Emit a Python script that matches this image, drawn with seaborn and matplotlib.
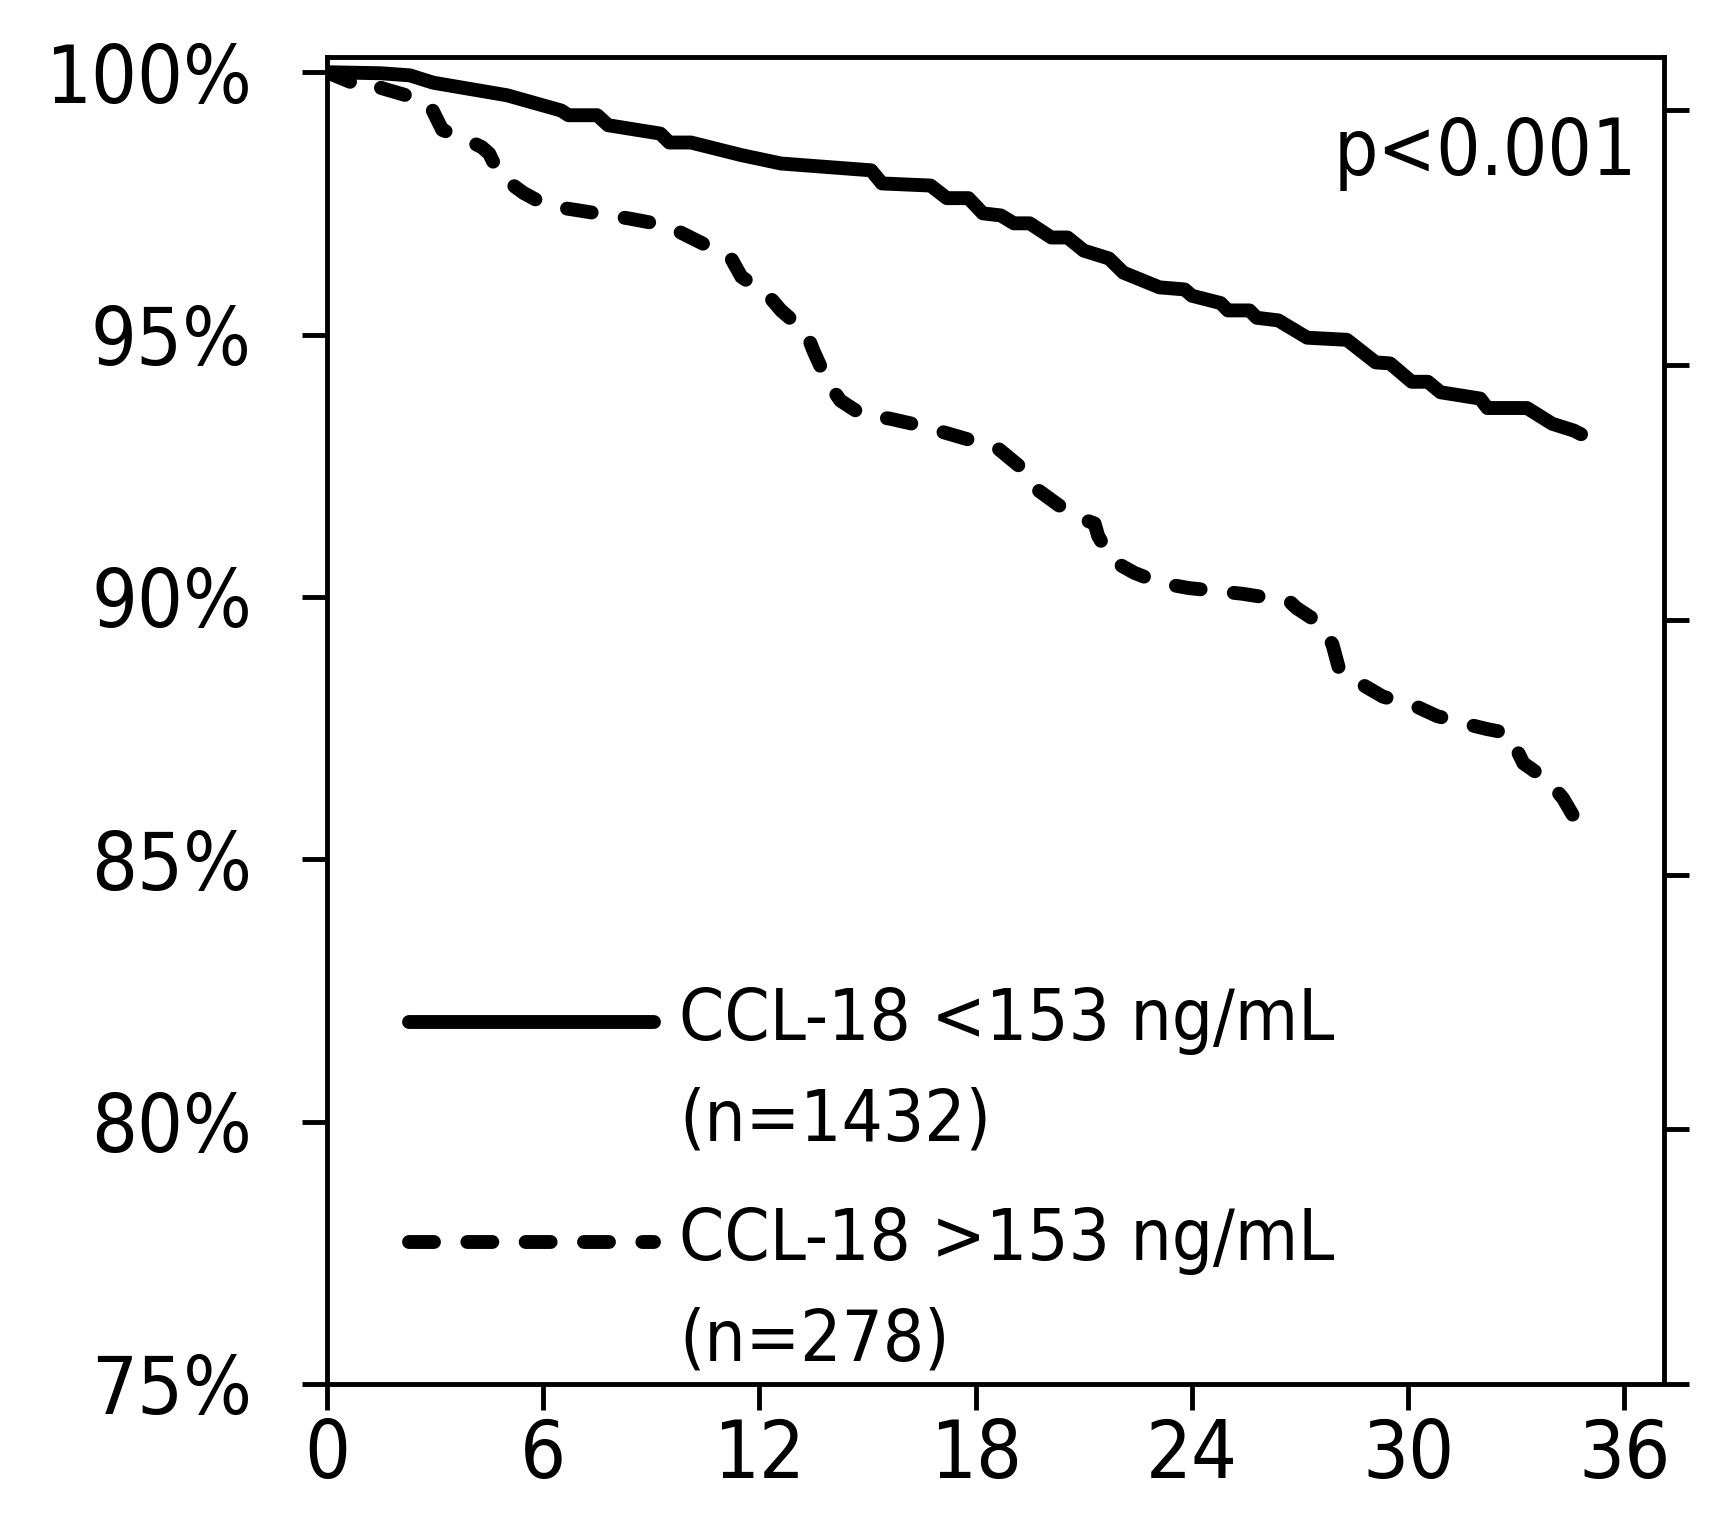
import numpy as np
import pandas as pd
import matplotlib
matplotlib.use("Agg")
import matplotlib.pyplot as plt
import seaborn as sns

# ---- data ----
months_low = [0.0, 1.5, 2.3, 2.95, 5.0, 6.5, 6.7, 7.5, 7.8, 9.25, 9.5, 10.1, 11.5,
              12.6, 15.1, 15.4, 16.75, 17.2, 17.8, 18.2, 18.7, 19.06, 19.5, 20.1,
              20.55, 21.0, 21.7, 22.1, 23.1, 23.8, 24.0, 24.8, 25.0, 25.6, 25.8,
              26.4, 27.2, 28.3, 29.1, 29.5, 30.1, 30.55, 30.9, 32.0, 32.2, 33.3,
              34.0, 34.6, 34.8]
surv_low = [100.0, 99.98, 99.94, 99.8, 99.56, 99.27, 99.18, 99.18, 98.99, 98.83,
            98.66, 98.66, 98.42, 98.26, 98.13, 97.88, 97.84, 97.6, 97.6, 97.31,
            97.27, 97.12, 97.12, 96.85, 96.85, 96.6, 96.45, 96.18, 95.9, 95.86,
            95.74, 95.6, 95.46, 95.46, 95.32, 95.27, 94.94, 94.9, 94.47, 94.45,
            94.1, 94.1, 93.9, 93.78, 93.6, 93.6, 93.3, 93.17, 93.1]

months_high = [0.0, 0.7, 1.4, 1.5, 2.2, 2.86, 3.2, 3.8, 4.3, 4.5, 4.8, 5.45, 6.1,
               6.95, 8.4, 9.4, 9.8, 11.2, 11.5, 12.2, 12.6, 13.3, 13.5, 13.9,
               14.25, 14.9, 15.6, 16.5, 17.9, 18.6, 19.2, 19.6, 20.3, 20.9, 21.3,
               21.4, 21.8, 22.4, 23.1, 23.9, 25.4, 26.7, 26.9, 27.5, 27.9, 28.1,
               28.7, 29.3, 30.2, 30.8, 31.6, 32.2, 32.8, 32.9, 33.2, 33.9, 34.3,
               34.7, 34.8]
surv_high = [100.0, 99.8, 99.79, 99.7, 99.56, 99.37, 98.9, 98.74, 98.57, 98.45,
             98.03, 97.7, 97.46, 97.37, 97.21, 97.08, 96.95, 96.47, 96.1, 95.78,
             95.46, 95.04, 94.69, 94.08, 93.74, 93.45, 93.4, 93.26, 92.98, 92.84,
             92.5, 92.1, 91.75, 91.5, 91.4, 91.16, 90.69, 90.46, 90.27, 90.17,
             90.06, 89.92, 89.79, 89.52, 89.1, 88.59, 88.34, 88.1, 87.92, 87.73,
             87.58, 87.48, 87.4, 87.25, 86.83, 86.49, 86.16, 85.69, 85.6]

groups = ["CCL-18 <153 ng/mL\n(n=1432)", "CCL-18 >153 ng/mL\n(n=278)"]
x_ticks = [0, 6, 12, 18, 24, 30, 36]
y_ticks = [75, 80, 85, 90, 95, 100]
p_text = "p<0.001"

# ---- style ----
sns.set_theme(style="ticks")
plt.rcParams["font.family"] = ["DejaVu Sans"]
plt.rcParams["font.stretch"] = "condensed"
plt.rcParams["text.color"] = "black"

df = pd.concat([
    pd.DataFrame({"month": months_low, "surv": surv_low, "group": groups[0]}),
    pd.DataFrame({"month": months_high, "surv": surv_high, "group": groups[1]}),
], ignore_index=True)

fig = plt.figure(figsize=(17.11, 15.24), dpi=100)
ax = fig.add_axes([0.1911, 0.0919, 0.7814, 0.8707])

sns.lineplot(data=df, x="month", y="surv", hue="group", style="group",
             palette=["black", "black"],
             dashes={groups[0]: "", groups[1]: (1.8, 2.4)},
             estimator=None, sort=False, linewidth=10, legend=False, ax=ax,
             dash_capstyle="round", solid_capstyle="round",
             solid_joinstyle="round", dash_joinstyle="round")

ax.set_xlim(0, 37.1)
ax.set_ylim(75, 100.29)
ax.set_xticks(x_ticks)
ax.set_xticklabels([str(v) for v in x_ticks])
ax.set_yticks(y_ticks)
ax.set_yticklabels([f"{v}%" for v in y_ticks])
ax.set_xlabel("")
ax.set_ylabel("")

for s in ax.spines.values():
    s.set_visible(True)
    s.set_linewidth(3.5)
    s.set_color("black")

ax.tick_params(axis="x", direction="out", length=19, width=3.5, pad=5,
               labelsize=58, colors="black")
ax.tick_params(axis="y", direction="out", length=18, width=3.5, pad=36,
               labelsize=58, colors="black")

# right-hand secondary axis ticks (unlabelled)
ax2 = ax.twinx()
ax2.set_ylim(0, 5.21)
ax2.set_yticks([0, 1, 2, 3, 4, 5])
ax2.set_yticklabels([])
for s in ax2.spines.values():
    s.set_visible(False)
ax2.tick_params(axis="y", direction="out", length=18, width=3.5, right=True,
                colors="black")
ax2.grid(False)

ax.text(0.980, 0.911, p_text, transform=ax.transAxes, ha="right",
        va="baseline", fontsize=56, color="black")

handles = ax.get_lines()[:2]
leg = ax.legend(handles, groups, loc="upper left", bbox_to_anchor=(0.061, 0.30),
                frameon=False, fontsize=52, handlelength=3.4, handletextpad=0.35,
                labelspacing=0.7, borderpad=0, borderaxespad=0,
                labelcolor="black")
for t in leg.get_texts():
    t.set_linespacing(1.58)
for ln in leg.get_lines():
    ln.set_ydata(np.asarray(ln.get_ydata()) + 36.0)

fig.savefig("out.png", dpi=100, facecolor="white")
